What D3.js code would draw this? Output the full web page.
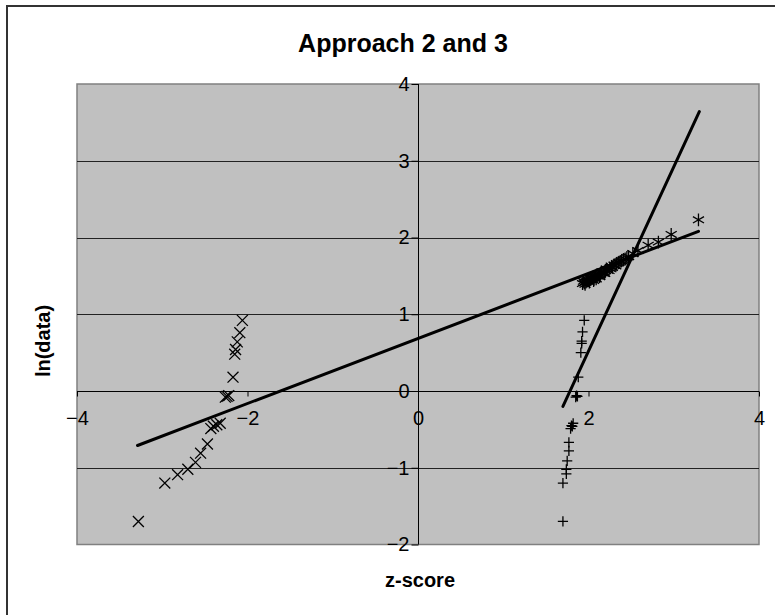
<!DOCTYPE html>
<html>
<head>
<meta charset="utf-8">
<script src="https://cdn.jsdelivr.net/npm/d3@7"></script>
<style>
  body { margin: 0; background: #fff; }
  svg { display: block; }
  text { font-family: Arial, "Liberation Sans", sans-serif; fill: #000; }
</style>
</head>
<body>
<div id="chart"></div>
<script>
const chartTitle = "Approach 2 and 3";
const xTitle = "z-score";
const yTitle = "ln(data)";
const xTicks = [-4, -2, 0, 2, 4];
const yTicks = [-2, -1, 0, 1, 2, 3, 4];

// "x" markers (left cluster)
const crossZ = [-3.28, -2.97, -2.82, -2.70, -2.61, -2.55, -2.47, -2.43, -2.40, -2.36, -2.32, -2.26, -2.24, -2.22, -2.17, -2.15, -2.14, -2.12, -2.09, -2.06];
const crossLn = [-1.70, -1.20, -1.09, -1.02, -0.93, -0.81, -0.69, -0.49, -0.46, -0.44, -0.42, -0.08, -0.07, -0.06, 0.18, 0.48, 0.54, 0.64, 0.76, 0.92];

// "+" markers
const plusZ = [1.70, 1.70, 1.74, 1.74, 1.75, 1.77, 1.77, 1.79, 1.80, 1.81, 1.82, 1.85, 1.86, 1.87, 1.88, 1.91, 1.92, 1.92, 1.93, 1.95];
const plusLn = [-1.70, -1.20, -1.08, -1.02, -0.91, -0.78, -0.67, -0.49, -0.45, -0.46, -0.42, -0.08, -0.06, -0.07, 0.18, 0.50, 0.62, 0.65, 0.77, 0.92];

// "*" markers (upper cluster)
const starZ = [
  1.93, 1.95, 1.97, 1.98, 2.00, 2.02, 2.03, 2.05, 2.07, 2.08, 2.10, 2.12, 2.14, 2.16, 2.18, 2.20, 2.22, 2.25, 2.27, 2.30,
  2.33, 2.36, 2.39, 2.43, 2.47, 2.52, 2.58, 2.70, 2.82, 2.97, 3.29,
  1.94, 1.96, 1.99, 2.01, 2.04, 2.06, 2.09, 2.11, 2.13, 2.15, 2.19, 2.21, 2.24, 2.28, 2.32, 2.35, 2.38, 2.41, 2.45,
];
const starLn = [
  1.40, 1.41, 1.42, 1.43, 1.44, 1.45, 1.46, 1.47, 1.48, 1.49, 1.50, 1.51, 1.52, 1.54, 1.55, 1.57, 1.58, 1.60, 1.62, 1.64,
  1.66, 1.68, 1.70, 1.72, 1.75, 1.79, 1.83, 1.90, 1.94, 2.04, 2.23,
  1.43, 1.39, 1.45, 1.42, 1.48, 1.44, 1.46, 1.52, 1.49, 1.55, 1.53, 1.59, 1.57, 1.61, 1.63, 1.67, 1.69, 1.71, 1.74,
];

// fitted lines (end points)
const fitShallowZ = [-3.29, 3.29];
const fitShallowLn = [-0.71, 2.08];
const fitSteepZ = [1.70, 3.30];
const fitSteepLn = [-0.20, 3.64];

const width = 775;
const height = 615;
const plot = { left: 77, right: 759, top: 84, bottom: 544.5 };

const svg = d3.select("#chart").append("svg").attr("width", width).attr("height", height);

svg.append("rect").attr("width", width).attr("height", height).attr("fill", "#fff");
svg
  .append("rect")
  .attr("x", 7)
  .attr("y", 6)
  .attr("width", width + 10)
  .attr("height", height + 10)
  .attr("fill", "none")
  .attr("stroke", "#333")
  .attr("stroke-width", 2);

const x = d3.scaleLinear().domain([-4, 4]).range([plot.left, plot.right]);
const y = d3.scaleLinear().domain([-2, 4]).range([plot.bottom, plot.top]);

svg
  .append("rect")
  .attr("x", plot.left)
  .attr("y", plot.top)
  .attr("width", plot.right - plot.left)
  .attr("height", plot.bottom - plot.top)
  .attr("fill", "#c0c0c0")
  .attr("stroke", "#808080")
  .attr("stroke-width", 1.5);

// gridlines
svg
  .append("g")
  .selectAll("line")
  .data(yTicks.filter((d) => d > -2 && d < 4))
  .join("line")
  .attr("x1", plot.left)
  .attr("x2", plot.right)
  .attr("y1", (d) => Math.round(y(d)) + 0.5)
  .attr("y2", (d) => Math.round(y(d)) + 0.5)
  .attr("stroke", "#222")
  .attr("stroke-width", 1);

// y axis through z = 0
svg
  .append("g")
  .attr("transform", `translate(${Math.round(x(0)) + 0.5},0)`)
  .call(d3.axisLeft(y).tickValues(yTicks).tickSize(7).tickFormat(d3.format("d")))
  .call((g) => g.select(".domain").attr("stroke", "#000").attr("d", `M0,${plot.top}V${plot.bottom}`))
  .call((g) => g.selectAll("line").attr("stroke", "#000"))
  .call((g) => g.selectAll("text").attr("font-size", 20).attr("x", -9).attr("fill", "#000").style("font-family", "Arial, 'Liberation Sans', sans-serif"));

// x axis through ln = 0
svg
  .append("g")
  .attr("transform", `translate(0,${Math.round(y(0)) + 0.5})`)
  .call(d3.axisBottom(x).tickValues(xTicks).tickSize(5).tickFormat(d3.format("d")))
  .call((g) => g.select(".domain").attr("stroke", "#000").attr("d", `M${plot.left},0H${plot.right}`))
  .call((g) => g.selectAll("line").attr("stroke", "#000"))
  .call((g) => g.selectAll("text").attr("font-size", 20).attr("y", 19).attr("fill", "#000").style("font-family", "Arial, 'Liberation Sans', sans-serif"));

// fit lines
const line = d3
  .line()
  .x((d) => x(d[0]))
  .y((d) => y(d[1]));

[
  [fitShallowZ, fitShallowLn],
  [fitSteepZ, fitSteepLn],
].forEach(([zs, lns]) => {
  svg
    .append("path")
    .attr("d", line(d3.zip(zs, lns)))
    .attr("fill", "none")
    .attr("stroke", "#000")
    .attr("stroke-width", 3)
    .attr("stroke-linecap", "round");
});

// markers
function drawMarkers(zs, lns, type, size) {
  const symbol = d3.symbol().type(type).size(size);
  svg
    .append("g")
    .selectAll("path")
    .data(d3.zip(zs, lns))
    .join("path")
    .attr("transform", (d) => `translate(${x(d[0])},${y(d[1])})`)
    .attr("d", symbol)
    .attr("fill", "none")
    .attr("stroke", "#000")
    .attr("stroke-width", 1.3);
}

drawMarkers(crossZ, crossLn, d3.symbolTimes, 80);
drawMarkers(plusZ, plusLn, d3.symbolPlus, 36);
drawMarkers(starZ, starLn, d3.symbolAsterisk, 115);

// titles
svg
  .append("text")
  .attr("x", 403)
  .attr("y", 52)
  .attr("text-anchor", "middle")
  .attr("font-size", 25)
  .attr("font-weight", "bold")
  .text(chartTitle);

svg
  .append("text")
  .attr("x", (plot.left + plot.right) / 2 + 2)
  .attr("y", 587)
  .attr("text-anchor", "middle")
  .attr("font-size", 20)
  .attr("font-weight", "bold")
  .text(xTitle);

svg
  .append("text")
  .attr("transform", `translate(50,341) rotate(-90)`)
  .attr("text-anchor", "middle")
  .attr("font-size", 20)
  .attr("font-weight", "bold")
  .text(yTitle);
</script>
</body>
</html>
